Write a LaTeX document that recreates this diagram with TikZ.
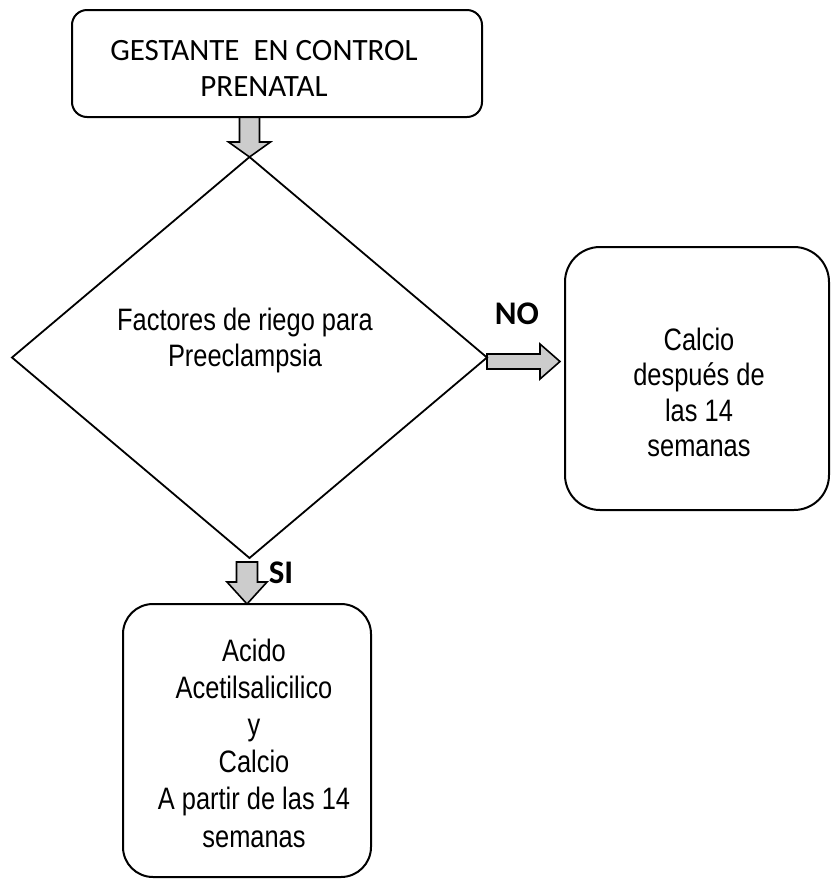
\documentclass[tikz,border=0pt]{standalone}
\usepackage{fontspec}
\setmainfont{Liberation Sans}
\newfontfamily\narrowfont[FakeStretch=0.82]{Liberation Sans}
\newfontfamily\califont{Carlito}
\usetikzlibrary{calc,shapes.geometric,backgrounds}

\newcommand\vdownarrow[5]{%
  \filldraw[barrow] ($(#1)+(-#3,0)$) -- ($(#2)+(-#3,-#5)$) -- ($(#2)+(-#4,-#5)$) -- (#2)
    -- ($(#2)+(#4,-#5)$) -- ($(#2)+(#3,-#5)$) -- ($(#1)+(#3,0)$) -- cycle;}
\newcommand\hrightarrow[5]{%
  \filldraw[barrow] ($(#1)+(0,-#3)$) -- ($(#2)+(-#5,-#3)$) -- ($(#2)+(-#5,-#4)$) -- (#2)
    -- ($(#2)+(-#5,#4)$) -- ($(#2)+(-#5,#3)$) -- ($(#1)+(0,#3)$) -- cycle;}

\begin{document}
\begin{tikzpicture}[x=1pt,y=-1pt,
  rbox/.style={draw, line width=2pt, rounded corners=#1, inner sep=0pt, outer sep=0pt},
  barrow/.style={draw=black, fill=gray!40, line width=1.6pt, line join=miter},
  bodytext/.style={inner sep=0pt, align=center, font=\narrowfont\fontsize{31}{#1}\selectfont},
  caltext/.style={inner sep=0pt, align=center, font=\califont\fontsize{31}{36}\selectfont},
  yesno/.style={inner sep=0pt, font=\califont\bfseries\fontsize{33}{36}\selectfont}]
\useasboundingbox (0,0) rectangle (831,879);

% shapes
\node[rbox=15, minimum width=410, minimum height=107] (top) at (277,63.5) {};
\node[draw, diamond, line width=1.8pt, inner sep=0pt, outer sep=0pt,
      minimum width=475, minimum height=401] (dia) at (249.5,357.5) {};
\node[rbox=35, minimum width=264, minimum height=263] (rb) at (697,378.5) {};
\node[rbox=30, minimum width=248, minimum height=273] (bb) at (247,740.5) {};

% texts
\node[caltext] (toptext) at (264,68) {GESTANTE\ \ EN CONTROL\\PRENATAL};
\node[bodytext=36] (dtext) at (245,340.5) {Factores de riego para\\Preeclampsia};
\node[bodytext=35.3] (rtext) at (699,392.5) {Calcio\\después de\\las 14\\semanas};
\node[bodytext=37.2] (btext) at (254,743) {Acido\\Acetilsalicilico\\y\\Calcio\\A partir de las 14\\semanas};
\node[yesno] (no) at (517,314) {NO};
\node[yesno] (si) at (281,573) {SI};

% connectors (block arrows)
\coordinate (a1s) at (top.south -| dia.north);
\coordinate (a2s) at ($(dia.east)+(0,4)$);
\coordinate (a2e) at ($(rb.west |- a2s)+(-5,0)$);
\coordinate (a3s) at ($(bb.north |- dia.south)+(0,4)$);
\begin{pgfonlayer}{background}
\vdownarrow{a1s}{dia.north}{10}{21}{15}
\hrightarrow{a2s}{a2e}{7.5}{17.5}{20}
\vdownarrow{a3s}{bb.north}{10.5}{20}{22}
\end{pgfonlayer}
\end{tikzpicture}
\end{document}
